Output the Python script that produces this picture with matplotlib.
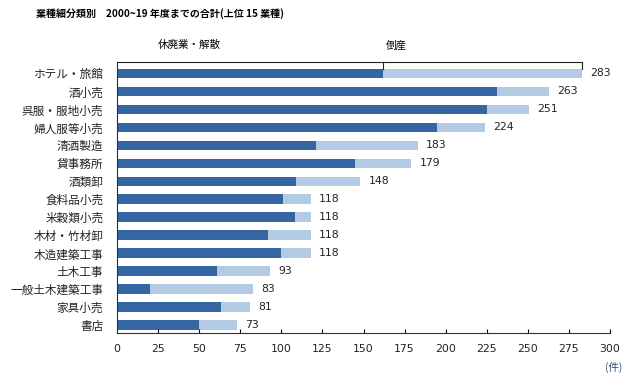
import matplotlib
matplotlib.use("Agg")
import matplotlib.pyplot as plt
import numpy as np

plt.rcParams["font.family"] = ["DejaVu Sans", "Noto Sans CJK JP"]

industries = ["ホテル・旅館", "酒小売", "呉服・服地小売", "婦人服等小売", "清酒製造",
              "貸事務所", "酒類卸", "食料品小売", "米穀類小売", "木材・竹材卸",
              "木造建築工事", "土木工事", "一般土木建築工事", "家具小売", "書店"]
totals = [283, 263, 251, 224, 183, 179, 148, 118, 118, 118, 118, 93, 83, 81, 73]
closures = [162, 231, 225, 195, 121, 145, 109, 101, 108, 92, 100, 61, 20, 63, 50]
bankrupt = [t - c for t, c in zip(totals, closures)]
xticks = [0, 25, 50, 75, 100, 125, 150, 175, 200, 225, 250, 275, 300]

dark = "#3566a1"
light = "#b3cae5"
cjk = ["Noto Sans CJK JP", "DejaVu Sans"]

fig = plt.figure(figsize=(6.4, 3.81), dpi=100)
ax = fig.add_axes([0.183, 0.126, 0.770, 0.711])

y = np.arange(len(industries))
ax.barh(y, closures, height=0.53, color=dark)
ax.barh(y, bankrupt, left=closures, height=0.53, color=light)

for yi, t in zip(y, totals):
    ax.text(t + 5, yi, str(t), va="center", ha="left", fontsize=7.8, color="#222222")

ax.set_xlim(0, 300)
ax.set_ylim(14.44, -0.63)
ax.set_xticks(xticks)
ax.set_xticklabels([str(v) for v in xticks], fontsize=7.8, color="#222222")
ax.set_yticks(y)
ax.set_yticklabels(industries, family=cjk, fontsize=8.4, color="#222222")
ax.tick_params(axis="x", direction="in", length=3, pad=8, width=0.8)
ax.tick_params(axis="y", length=0, pad=10)
for s in ["top", "right"]:
    ax.spines[s].set_visible(False)
for s in ["left", "bottom"]:
    ax.spines[s].set_linewidth(0.8)
    ax.spines[s].set_color("#333333")

# bracket over the first bar
top = -0.63
ax.plot([0, totals[0]], [top, top], color="#222222", lw=0.8, clip_on=False)
ax.plot([closures[0], closures[0]], [top, -0.24], color="#222222", lw=0.8, clip_on=False)
ax.plot([totals[0], totals[0]], [top, -0.24], color="#222222", lw=0.8, clip_on=False)
ax.text(44, -1.57, "休廃業・解散", family=cjk, fontsize=7.6, ha="center", va="center", clip_on=False)
ax.text(170, -1.57, "倒産", family=cjk, fontsize=7.6, ha="center", va="center", clip_on=False)

fig.text(36 / 640, 1 - 14 / 381, "業種細分類別　2000~19 年度までの合計(上位 15 業種)",
         family=cjk, fontsize=7.2, fontweight="bold", ha="left", va="center")
fig.text(614 / 640, 1 - 367 / 381, "(件)", family=cjk, fontsize=7.5, color="#2f4f7f",
         ha="center", va="center")

fig.savefig("out.png", dpi=100)
